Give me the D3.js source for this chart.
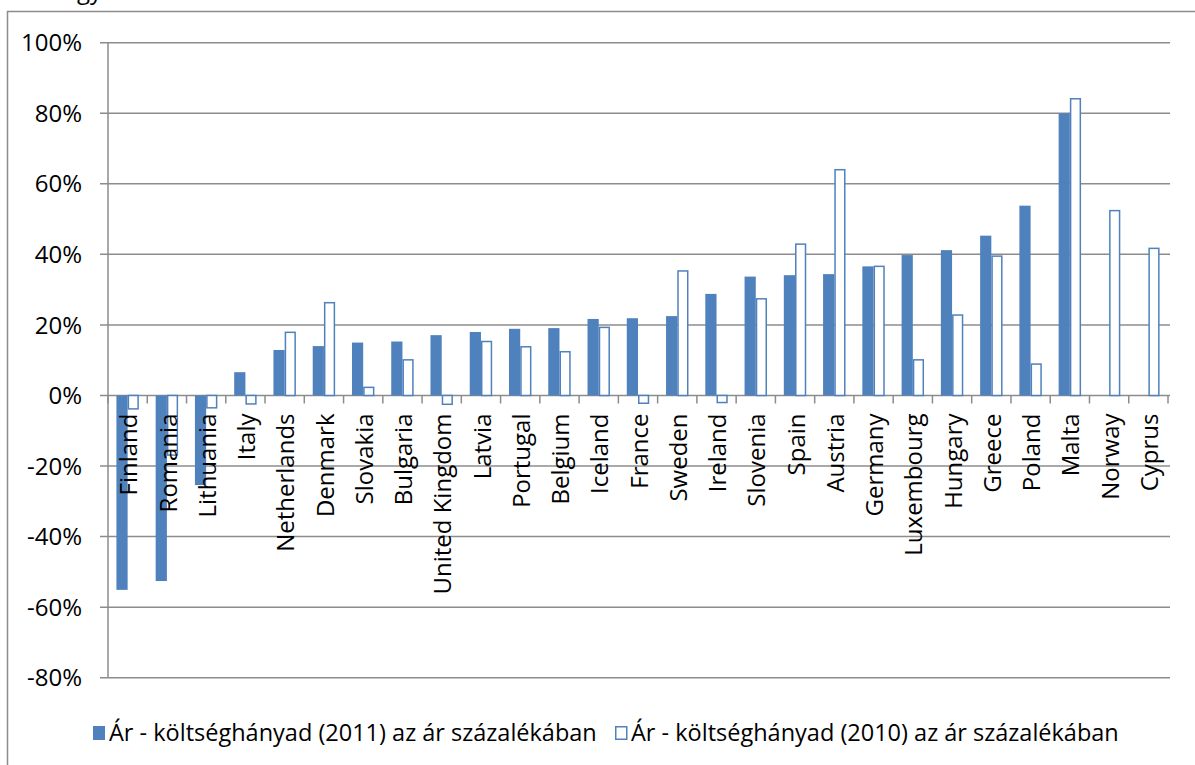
<!DOCTYPE html>
<html>
<head>
<meta charset="utf-8">
<script src="https://cdn.jsdelivr.net/npm/d3@7"></script>
<style>
  body { margin: 0; background: #fff; }
  svg text { font-family: "Open Sans", sans-serif; fill: #000; }
</style>
</head>
<body>
<div id="container"></div>
<script>
/* CONSTANTS AND GLOBALS */
const width = 1195,
    height = 765;

const margin = { left: 108, right: 1168, top: 42.7, bottom: 677.7 };

/* DATA */
const countries = ["Finland", "Romania", "Lithuania", "Italy", "Netherlands", "Denmark", "Slovakia",
    "Bulgaria", "United Kingdom", "Latvia", "Portugal", "Belgium", "Iceland", "France", "Sweden",
    "Ireland", "Slovenia", "Spain", "Austria", "Germany", "Luxembourg", "Hungary", "Greece",
    "Poland", "Malta", "Norway", "Cyprus"];

// 2011 (filled) — null where no value
const values2011 = [-55.1, -52.6, -25.4, 6.6, 12.9, 14.0, 15.0, 15.3, 17.1, 18.0, 18.9, 19.1,
    21.7, 21.9, 22.5, 28.8, 33.7, 34.1, 34.4, 36.6, 39.8, 41.2, 45.3, 53.8, 80.0, null, null];

// 2010 (hollow)
const values2010 = [-3.8, -16.9, -3.5, -2.4, 17.9, 26.3, 2.3, 10.1, -2.5, 15.3, 13.8, 12.4,
    19.3, -2.2, 35.3, -2.0, 27.4, 42.9, 64.0, 36.6, 10.1, 22.8, 39.5, 8.9, 84.1, 52.4, 41.7];

const yTicks = [-80, -60, -40, -20, 0, 20, 40, 60, 80, 100];

const seriesNames = ["Ár - költséghányad (2011) az ár százalékában",
    "Ár - költséghányad (2010) az ár százalékában"];

const blue = "#4f81bd",
    gridColor = "#8c8c8c";

const svg = d3.select("#container")
    .append("svg")
    .attr("width", width)
    .attr("height", height);

// chart frame
svg.append("rect")
    .attr("x", 7.5)
    .attr("y", 11.5)
    .attr("width", 1200)
    .attr("height", 800)
    .attr("fill", "none")
    .attr("stroke", gridColor)
    .attr("stroke-width", 1.5);

// clipped bit of the title above the frame
svg.append("text")
    .attr("x", 102)
    .attr("y", -1)
    .attr("text-anchor", "end")
    .style("font-size", "24px")
    .text("ngy");

// SCALES
const xScale = d3.scaleBand()
    .domain(countries)
    .range([margin.left, margin.right]);

const yScale = d3.scaleLinear()
    .domain([-80, 100])
    .range([margin.bottom, margin.top]);

const bw = xScale.bandwidth();
const barW = bw / 3.5;

// GRID
svg.append("g")
    .selectAll("line")
    .data(yTicks)
    .join("line")
    .attr("x1", margin.left - 8)
    .attr("x2", margin.right + 2)
    .attr("y1", d => yScale(d))
    .attr("y2", d => yScale(d))
    .attr("stroke", gridColor)
    .attr("stroke-width", 1.5);

// Y AXIS LINE
svg.append("line")
    .attr("x1", margin.left)
    .attr("x2", margin.left)
    .attr("y1", yScale(100))
    .attr("y2", yScale(-80))
    .attr("stroke", gridColor)
    .attr("stroke-width", 1.5);

// Y LABELS
svg.append("g")
    .selectAll("text")
    .data(yTicks)
    .join("text")
    .attr("x", 82)
    .attr("y", d => yScale(d))
    .attr("dy", "0.36em")
    .attr("text-anchor", "end")
    .style("font-size", "24px")
    .text(d => d + "%");

// BARS 2011
svg.append("g")
    .selectAll("rect")
    .data(countries.map((c, i) => ({ c, v: values2011[i] })).filter(d => d.v !== null))
    .join("rect")
    .attr("x", d => xScale(d.c) + barW * 0.75)
    .attr("y", d => yScale(Math.max(0, d.v)))
    .attr("width", barW)
    .attr("height", d => Math.abs(yScale(d.v) - yScale(0)))
    .attr("fill", blue);

// BARS 2010
svg.append("g")
    .selectAll("rect")
    .data(countries.map((c, i) => ({ c, v: values2010[i] })).filter(d => d.v !== null))
    .join("rect")
    .attr("x", d => xScale(d.c) + barW * 1.75 + 0.75)
    .attr("y", d => yScale(Math.max(0, d.v)))
    .attr("width", barW - 1.5)
    .attr("height", d => Math.abs(yScale(d.v) - yScale(0)))
    .attr("fill", "#fff")
    .attr("stroke", blue)
    .attr("stroke-width", 1.5);

// X AXIS (zero line ticks)
svg.append("g")
    .selectAll("line")
    .data(d3.range(countries.length + 1))
    .join("line")
    .attr("x1", i => margin.left + i * bw)
    .attr("x2", i => margin.left + i * bw)
    .attr("y1", yScale(0))
    .attr("y2", yScale(0) + 8)
    .attr("stroke", gridColor)
    .attr("stroke-width", 1.5);

// CATEGORY LABELS
svg.append("g")
    .selectAll("text")
    .data(countries)
    .join("text")
    .attr("transform", d => "translate(" + (xScale(d) + bw / 2 + 1) + "," + (yScale(0) + 18) + ") rotate(-90)")
    .attr("dy", "0.36em")
    .attr("text-anchor", "end")
    .style("font-size", "24px")
    .text(d => d);

// LEGEND
const legend = svg.append("g");
const legendX = [93, 615];

legend.append("rect")
    .attr("x", legendX[0])
    .attr("y", 726)
    .attr("width", 12)
    .attr("height", 14)
    .attr("fill", blue);

legend.append("rect")
    .attr("x", legendX[1] + 0.75)
    .attr("y", 726.75)
    .attr("width", 11)
    .attr("height", 12.5)
    .attr("fill", "#fff")
    .attr("stroke", blue)
    .attr("stroke-width", 1.5);

legend.selectAll("text")
    .data(seriesNames)
    .join("text")
    .attr("x", (d, i) => legendX[i] + 16)
    .attr("y", 733)
    .attr("dy", "0.36em")
    .style("font-size", "23.5px")
    .text(d => d);
</script>
</body>
</html>
